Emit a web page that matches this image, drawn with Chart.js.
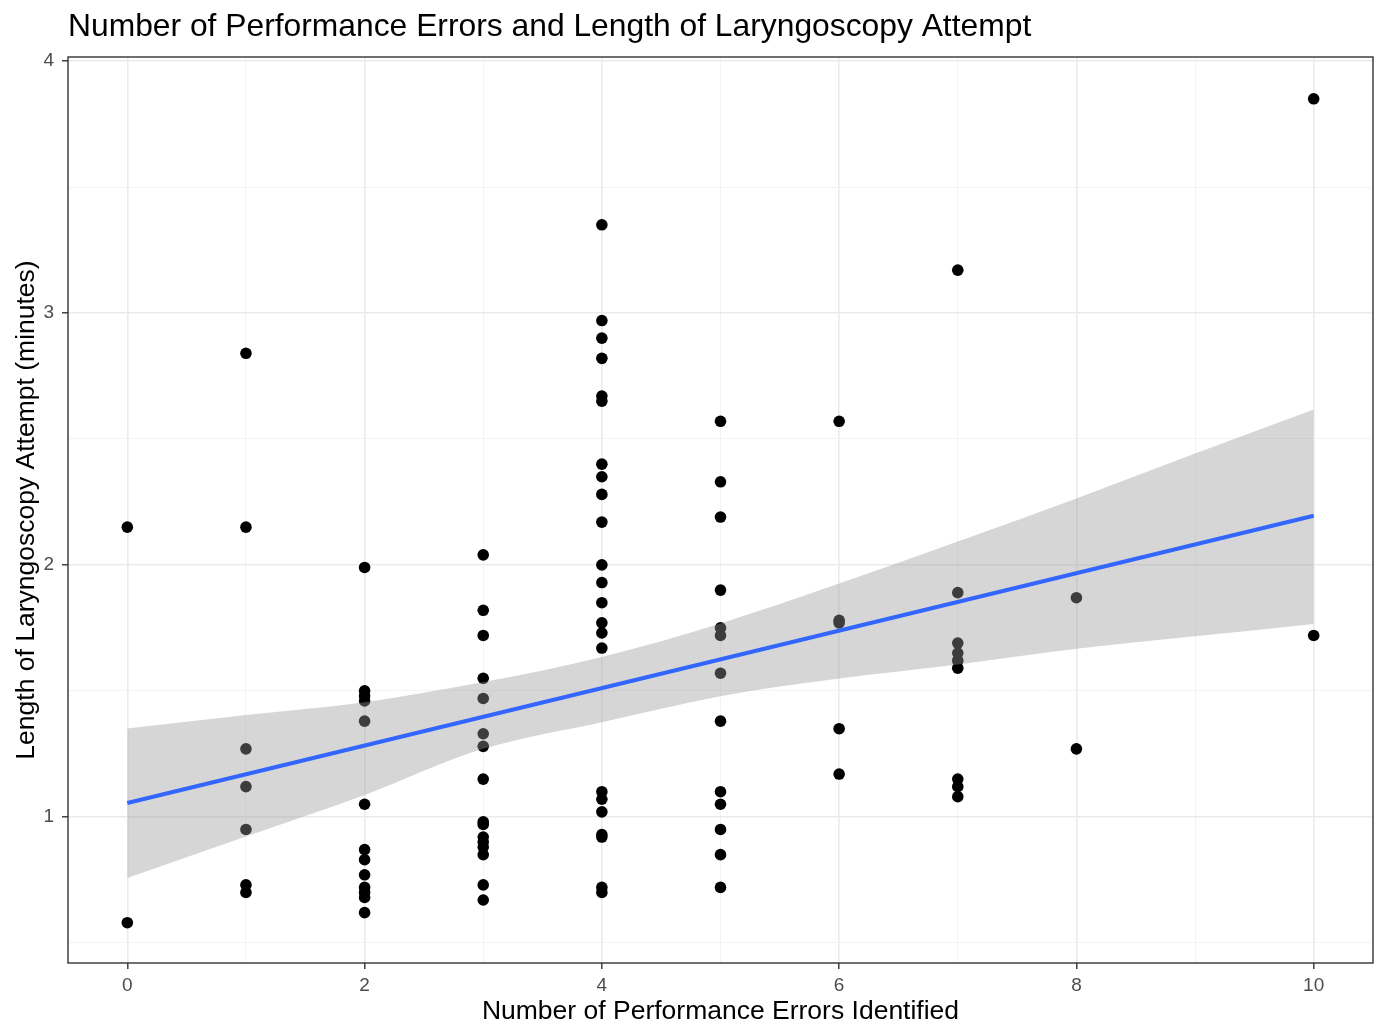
<!DOCTYPE html>
<html>
<head>
<meta charset="utf-8">
<script src="https://cdn.jsdelivr.net/npm/chart.js@4.4.1/dist/chart.umd.min.js"></script>
<style>
  body { margin: 0; background: #fff; }
  #wrap { width: 1379px; height: 1025px; }
</style>
</head>
<body>
<div id="wrap"><canvas id="chart" width="1379" height="1025"></canvas></div>
<script>
// number of performance errors (x) and laryngoscopy length in minutes (y)
const errors = [
  0, 0,
  1, 1, 1, 1, 1, 1, 1,
  2, 2, 2, 2, 2, 2, 2, 2, 2, 2, 2, 2, 2,
  3, 3, 3, 3, 3, 3, 3, 3, 3, 3, 3, 3, 3, 3, 3, 3,
  4, 4, 4, 4, 4, 4, 4, 4, 4, 4, 4, 4, 4, 4, 4, 4, 4, 4, 4, 4, 4, 4, 4,
  5, 5, 5, 5, 5, 5, 5, 5, 5, 5, 5, 5, 5,
  6, 6, 6, 6, 6,
  7, 7, 7, 7, 7, 7, 7, 7, 7,
  8, 8,
  10, 10
];
const minutes = [
  2.15, 0.58,
  2.84, 2.15, 1.27, 1.12, 0.95, 0.73, 0.70,
  1.99, 1.50, 1.48, 1.46, 1.38, 1.05, 0.87, 0.83, 0.77, 0.72, 0.70, 0.68, 0.62,
  2.04, 1.82, 1.72, 1.55, 1.47, 1.33, 1.28, 1.15, 0.98, 0.97, 0.92, 0.90, 0.88, 0.85, 0.73, 0.67,
  3.35, 2.97, 2.90, 2.82, 2.67, 2.65, 2.40, 2.35, 2.28, 2.17, 2.00, 1.93, 1.85, 1.77, 1.73, 1.67, 1.10, 1.07, 1.02, 0.93, 0.92, 0.72, 0.70,
  2.57, 2.33, 2.19, 1.90, 1.75, 1.72, 1.57, 1.38, 1.10, 1.05, 0.95, 0.85, 0.72,
  2.57, 1.78, 1.77, 1.35, 1.17,
  3.17, 1.89, 1.69, 1.65, 1.62, 1.59, 1.15, 1.12, 1.08,
  1.87, 1.27,
  3.85, 1.72
];

// fitted line and its confidence band
const fitX = [0, 10];
const fitY = [1.055, 2.195];
const bandX = [0, 1, 2, 3, 4, 5, 6, 7, 8, 9, 10];
const bandUpper = [1.351, 1.404, 1.455, 1.535, 1.635, 1.768, 1.926, 2.093, 2.264, 2.442, 2.617];
const bandLower = [0.757, 0.922, 1.087, 1.270, 1.376, 1.479, 1.549, 1.605, 1.667, 1.717, 1.766];

const xTicks = [0, 1, 2, 3, 4, 5, 6, 7, 8, 9, 10];
const xLabels = [0, 2, 4, 6, 8, 10];
const yTicks = [0.5, 1, 1.5, 2, 2.5, 3, 3.5, 4];
const yLabels = [1, 2, 3, 4];

const titleText = 'Number of Performance Errors and Length of Laryngoscopy Attempt';
const FONT = '"Liberation Sans", Arial, Helvetica, sans-serif';

const pts = errors.map((x, i) => ({ x: x, y: minutes[i] }));
const zip = (xs, ys) => xs.map((x, i) => ({ x: x, y: ys[i] }));

const panel = {
  id: 'panel',
  afterDraw(chart) {
    const { ctx, chartArea: a } = chart;
    ctx.save();
    ctx.strokeStyle = '#333333';
    ctx.lineWidth = 1.4;
    ctx.strokeRect(a.left, a.top, a.right - a.left, a.bottom - a.top);
    ctx.fillStyle = '#000';
    ctx.font = '31.8px ' + FONT;
    ctx.textAlign = 'left';
    ctx.textBaseline = 'alphabetic';
    ctx.fillText(titleText, a.left, 36);
    ctx.restore();
  }
};

const isMajor = (list, v) => list.includes(v);

new Chart(document.getElementById('chart'), {
  type: 'scatter',
  data: {
    datasets: [
      {
        type: 'scatter',
        data: pts,
        backgroundColor: '#000',
        borderWidth: 0,
        pointRadius: 5.8,
        order: 3
      },
      {
        type: 'line',
        data: zip(bandX, bandUpper),
        borderColor: 'transparent',
        borderWidth: 0,
        pointRadius: 0,
        cubicInterpolationMode: 'monotone',
        backgroundColor: 'rgba(153,153,153,0.4)',
        fill: '+1',
        order: 2
      },
      {
        type: 'line',
        data: zip(bandX, bandLower),
        borderColor: 'transparent',
        borderWidth: 0,
        pointRadius: 0,
        cubicInterpolationMode: 'monotone',
        fill: false,
        order: 2
      },
      {
        type: 'line',
        data: zip(fitX, fitY),
        borderColor: '#3366FF',
        borderWidth: 4,
        pointRadius: 0,
        fill: false,
        order: 1
      }
    ]
  },
  options: {
    responsive: false,
    animation: false,
    layout: { padding: { top: 57, right: 6, bottom: 0, left: 0 } },
    plugins: {
      legend: { display: false },
      tooltip: { enabled: false },
      title: { display: false }
    },
    scales: {
      x: {
        type: 'linear',
        min: -0.5,
        max: 10.5,
        afterBuildTicks: s => { s.ticks = xTicks.map(v => ({ value: v })); },
        afterFit: s => { s.height = 62; },
        border: { display: false },
        grid: {
          color: c => isMajor(xLabels, c.tick.value) ? '#ebebeb' : '#f2f2f2',
          lineWidth: c => isMajor(xLabels, c.tick.value) ? 1.6 : 0.9,
          tickColor: c => isMajor(xLabels, c.tick.value) ? '#333333' : 'rgba(0,0,0,0)',
          tickWidth: 1.4,
          tickLength: 6
        },
        ticks: {
          autoSkip: false,
          maxRotation: 0,
          padding: 5,
          color: '#4d4d4d',
          font: { family: FONT, size: 19 },
          callback: v => isMajor(xLabels, v) ? String(v) : ''
        },
        title: {
          display: true,
          text: 'Number of Performance Errors Identified',
          color: '#000',
          font: { family: FONT, size: 26.5, lineHeight: 1 },
          padding: { top: 0, bottom: 0 }
        }
      },
      y: {
        type: 'linear',
        min: 0.42,
        max: 4.016,
        afterBuildTicks: s => { s.ticks = yTicks.map(v => ({ value: v })); },
        afterFit: s => { s.width = 68; },
        border: { display: false },
        grid: {
          color: c => isMajor(yLabels, c.tick.value) ? '#ebebeb' : '#f2f2f2',
          lineWidth: c => isMajor(yLabels, c.tick.value) ? 1.6 : 0.9,
          tickColor: c => isMajor(yLabels, c.tick.value) ? '#333333' : 'rgba(0,0,0,0)',
          tickWidth: 1.4,
          tickLength: 6
        },
        ticks: {
          autoSkip: false,
          padding: 8,
          color: '#4d4d4d',
          font: { family: FONT, size: 19 },
          callback: v => isMajor(yLabels, v) ? String(v) : ''
        },
        title: {
          display: true,
          text: 'Length of Laryngoscopy Attempt (minutes)',
          color: '#000',
          font: { family: FONT, size: 26.5, lineHeight: 1 },
          padding: { top: 13, bottom: 0 }
        }
      }
    }
  },
  plugins: [panel]
});
</script>
</body>
</html>
